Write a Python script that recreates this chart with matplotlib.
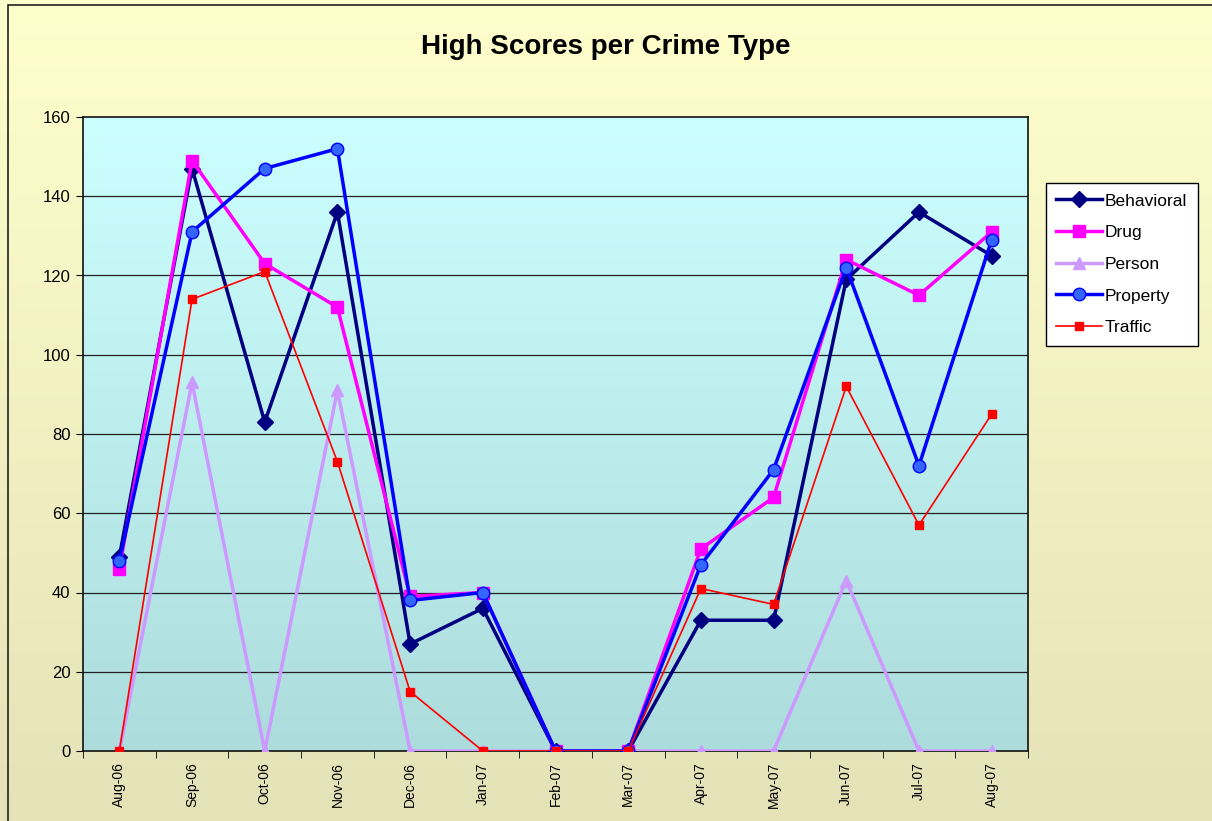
import matplotlib.pyplot as plt
import numpy as np
from matplotlib.colors import LinearSegmentedColormap
from matplotlib.patches import Rectangle

months = ['Aug-06', 'Sep-06', 'Oct-06', 'Nov-06', 'Dec-06', 'Jan-07', 'Feb-07',
          'Mar-07', 'Apr-07', 'May-07', 'Jun-07', 'Jul-07', 'Aug-07']
behavioral = [49, 147, 83, 136, 27, 36, 0, 0, 33, 33, 119, 136, 125]
drug = [46, 149, 123, 112, 39, 40, 0, 0, 51, 64, 124, 115, 131]
person = [0, 93, 0, 91, 0, 0, 0, 0, 0, 0, 43, 0, 0]
property_ = [48, 131, 147, 152, 38, 40, 0, 0, 47, 71, 122, 72, 129]
traffic = [0, 114, 121, 73, 15, 0, 0, 0, 41, 37, 92, 57, 85]
y_ticks = [0, 20, 40, 60, 80, 100, 120, 140, 160]

plt.rcParams['font.family'] = ['Liberation Sans', 'DejaVu Sans']

W, H = 1212, 821
fig = plt.figure(figsize=(W / 100, H / 100), dpi=100)

# figure background gradient (pale yellow)
bg = fig.add_axes([0, 0, 1, 1], zorder=-10)
bg_cmap = LinearSegmentedColormap.from_list('bg', ['#FFFFCC', '#E6E2B8'])
bg.imshow(np.linspace(0, 1, 256).reshape(-1, 1), cmap=bg_cmap, aspect='auto',
          extent=[0, 1, 0, 1], origin='upper')
bg.set_axis_off()
fig.add_artist(Rectangle((8 / W, -0.01), 1.02, 1 - 5 / H + 0.01, transform=fig.transFigure,
                         fill=False, edgecolor='#222222', linewidth=1.2))

ax = fig.add_axes([83 / W, 1 - 751 / H, (1028 - 83) / W, (751 - 117) / H])
ax.set_xlim(-0.5, len(months) - 0.5)
ax.set_ylim(0, 160)
pa_cmap = LinearSegmentedColormap.from_list('pa', ['#CCFFFF', '#ADDCDC'])
ax.imshow(np.linspace(0, 1, 256).reshape(-1, 1), cmap=pa_cmap, aspect='auto',
          extent=[-0.5, len(months) - 0.5, 0, 160], origin='upper', zorder=0)

for y in y_ticks[1:-1]:
    ax.axhline(y, color='#222222', linewidth=0.9, zorder=1)

x = np.arange(len(months))
ax.plot(x, behavioral, color='#000080', linewidth=2.5, marker='D', markersize=8,
        markerfacecolor='#000080', markeredgecolor='#000080', label='Behavioral', zorder=3)
ax.plot(x, drug, color='#FF00FF', linewidth=2.5, marker='s', markersize=9,
        markerfacecolor='#FF00FF', markeredgecolor='#FF00FF', label='Drug', zorder=3)
ax.plot(x, person, color='#CC99FF', linewidth=2.5, marker='^', markersize=9,
        markerfacecolor='#CC99FF', markeredgecolor='#CC99FF', label='Person', zorder=3)
ax.plot(x, property_, color='#0000FF', linewidth=2.5, marker='o', markersize=9,
        markerfacecolor='#3366FF', markeredgecolor='#0000FF', label='Property', zorder=3)
ax.plot(x, traffic, color='#FF0000', linewidth=1.2, marker='s', markersize=6,
        markerfacecolor='#FF0000', markeredgecolor='#FF0000', label='Traffic', zorder=3)

ax.set_yticks(y_ticks)
ax.set_yticklabels([str(v) for v in y_ticks], fontsize=12)
ax.set_xticks(x)
ax.set_xticklabels(months, rotation=90, fontsize=10)
ax.set_xticks(np.arange(len(months) + 1) - 0.5, minor=True)
ax.tick_params(axis='x', which='major', length=0, pad=8)
ax.tick_params(axis='x', which='minor', length=5, direction='out')
ax.tick_params(axis='y', length=5, direction='out', pad=4)
for s in ax.spines.values():
    s.set_color('#111111')
    s.set_linewidth(1.2)

fig.text(0.5, 1 - 47 / H, 'High Scores per Crime Type', ha='center', va='center',
         fontsize=20, fontweight='bold')

fig.legend(loc='upper left', bbox_to_anchor=(1046 / W, 1 - 183 / H),
           fontsize=12.5, frameon=True, fancybox=False, edgecolor='black',
           framealpha=1, facecolor='white', handlelength=2.6, labelspacing=0.95,
           borderpad=0.6, handletextpad=0.2, borderaxespad=0)

fig.savefig('out.png', dpi=100)
